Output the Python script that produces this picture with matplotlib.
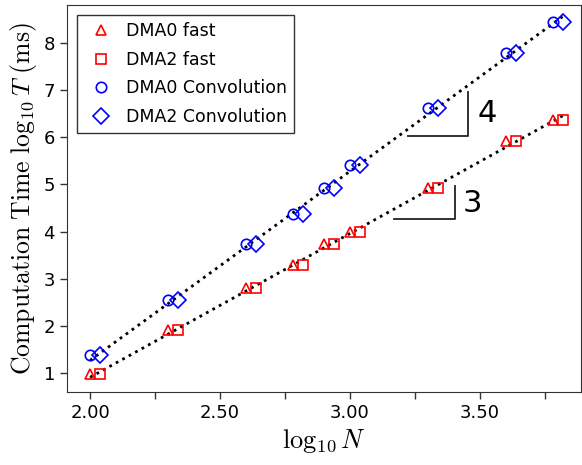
import matplotlib
matplotlib.use("Agg")
import matplotlib.pyplot as plt
import numpy as np

plt.rcParams['mathtext.fontset'] = 'cm'

# log10 N for each run; DMA2 points are shifted a little to the right so they don't overlap
logN_dma0 = [2.00, 2.30, 2.60, 2.78, 2.90, 3.00, 3.30, 3.60, 3.78]
logN_dma2 = [2.04, 2.34, 2.64, 2.82, 2.94, 3.04, 3.34, 3.64, 3.82]

# log10 T (ms)
dma0_fast = [0.97, 1.90, 2.80, 3.30, 3.74, 3.99, 4.92, 5.93, 6.37]
dma2_fast = [0.97, 1.90, 2.80, 3.30, 3.74, 3.99, 4.92, 5.93, 6.37]
dma0_conv = [1.37, 2.55, 3.74, 4.38, 4.93, 5.42, 6.62, 7.80, 8.45]
dma2_conv = [1.37, 2.55, 3.74, 4.38, 4.93, 5.42, 6.62, 7.80, 8.46]

xticks = [2.00, 2.25, 2.50, 2.75, 3.00, 3.25, 3.50, 3.75]
xticklabels = ["2.00", "", "2.50", "", "3.00", "", "3.50", ""]
yticks = [1, 2, 3, 4, 5, 6, 7, 8]

fig = plt.figure(figsize=(5.82, 4.65), dpi=100)
ax = fig.add_axes([0.1146, 0.1576, 0.884, 0.8316])

mk = dict(linestyle='none', markerfacecolor='none', markeredgewidth=1.2)
ax.plot(logN_dma0, dma0_fast, marker='^', color='red', markersize=7, label='DMA0 fast', **mk)
ax.plot(logN_dma2, dma2_fast, marker='s', color='red', markersize=7, label='DMA2 fast', **mk)
ax.plot(logN_dma0, dma0_conv, marker='o', color='blue', markersize=7.5, label='DMA0 Convolution', **mk)
ax.plot(logN_dma2, dma2_conv, marker='D', color='blue', markersize=8, label='DMA2 Convolution', **mk)

# dotted fit lines through both variants
xall = np.array(logN_dma0 + logN_dma2)
xs = np.array([xall.min(), xall.max()])
for ys in [dma0_fast + dma2_fast, dma0_conv + dma2_conv]:
    p = np.polyfit(xall, np.array(ys), 1)
    ax.plot(xs, np.polyval(p, xs), linestyle=':', color='black', linewidth=2, zorder=1)

# slope triangles
def slope_mark(x0, y0, dx, slope, label, lx, ly):
    ax.plot([x0, x0 + dx, x0 + dx], [y0, y0, y0 + slope * dx], color='#222222', linewidth=1.3)
    ax.text(lx, ly, label, fontsize=22, ha='left', va='center')

slope_mark(3.223, 6.03, 0.231, 4, "4", 3.49, 6.50)
slope_mark(3.169, 4.26, 0.235, 3, "3", 3.435, 4.60)

ax.set_xlim(1.91, 3.89)
ax.set_ylim(0.6, 8.81)
ax.set_xticks(xticks)
ax.set_xticklabels(xticklabels)
ax.set_yticks(yticks)
ax.tick_params(labelsize=13, length=5, width=1, color='#333333')
for s in ax.spines.values():
    s.set_color('#333333')

ax.set_xlabel(r'$\log_{10} N$', fontsize=19)
ax.set_ylabel(r'$\mathrm{Computation\ Time}\ \log_{10} T\ \mathrm{(ms)}$', fontsize=18.5, labelpad=3)

leg = ax.legend(loc='upper left', fontsize=12.5, fancybox=False, framealpha=1,
                edgecolor='#333333', handletextpad=0.4, borderaxespad=0.6, labelspacing=0.6)
leg.get_frame().set_linewidth(1.0)

fig.savefig('out.png', dpi=100)
